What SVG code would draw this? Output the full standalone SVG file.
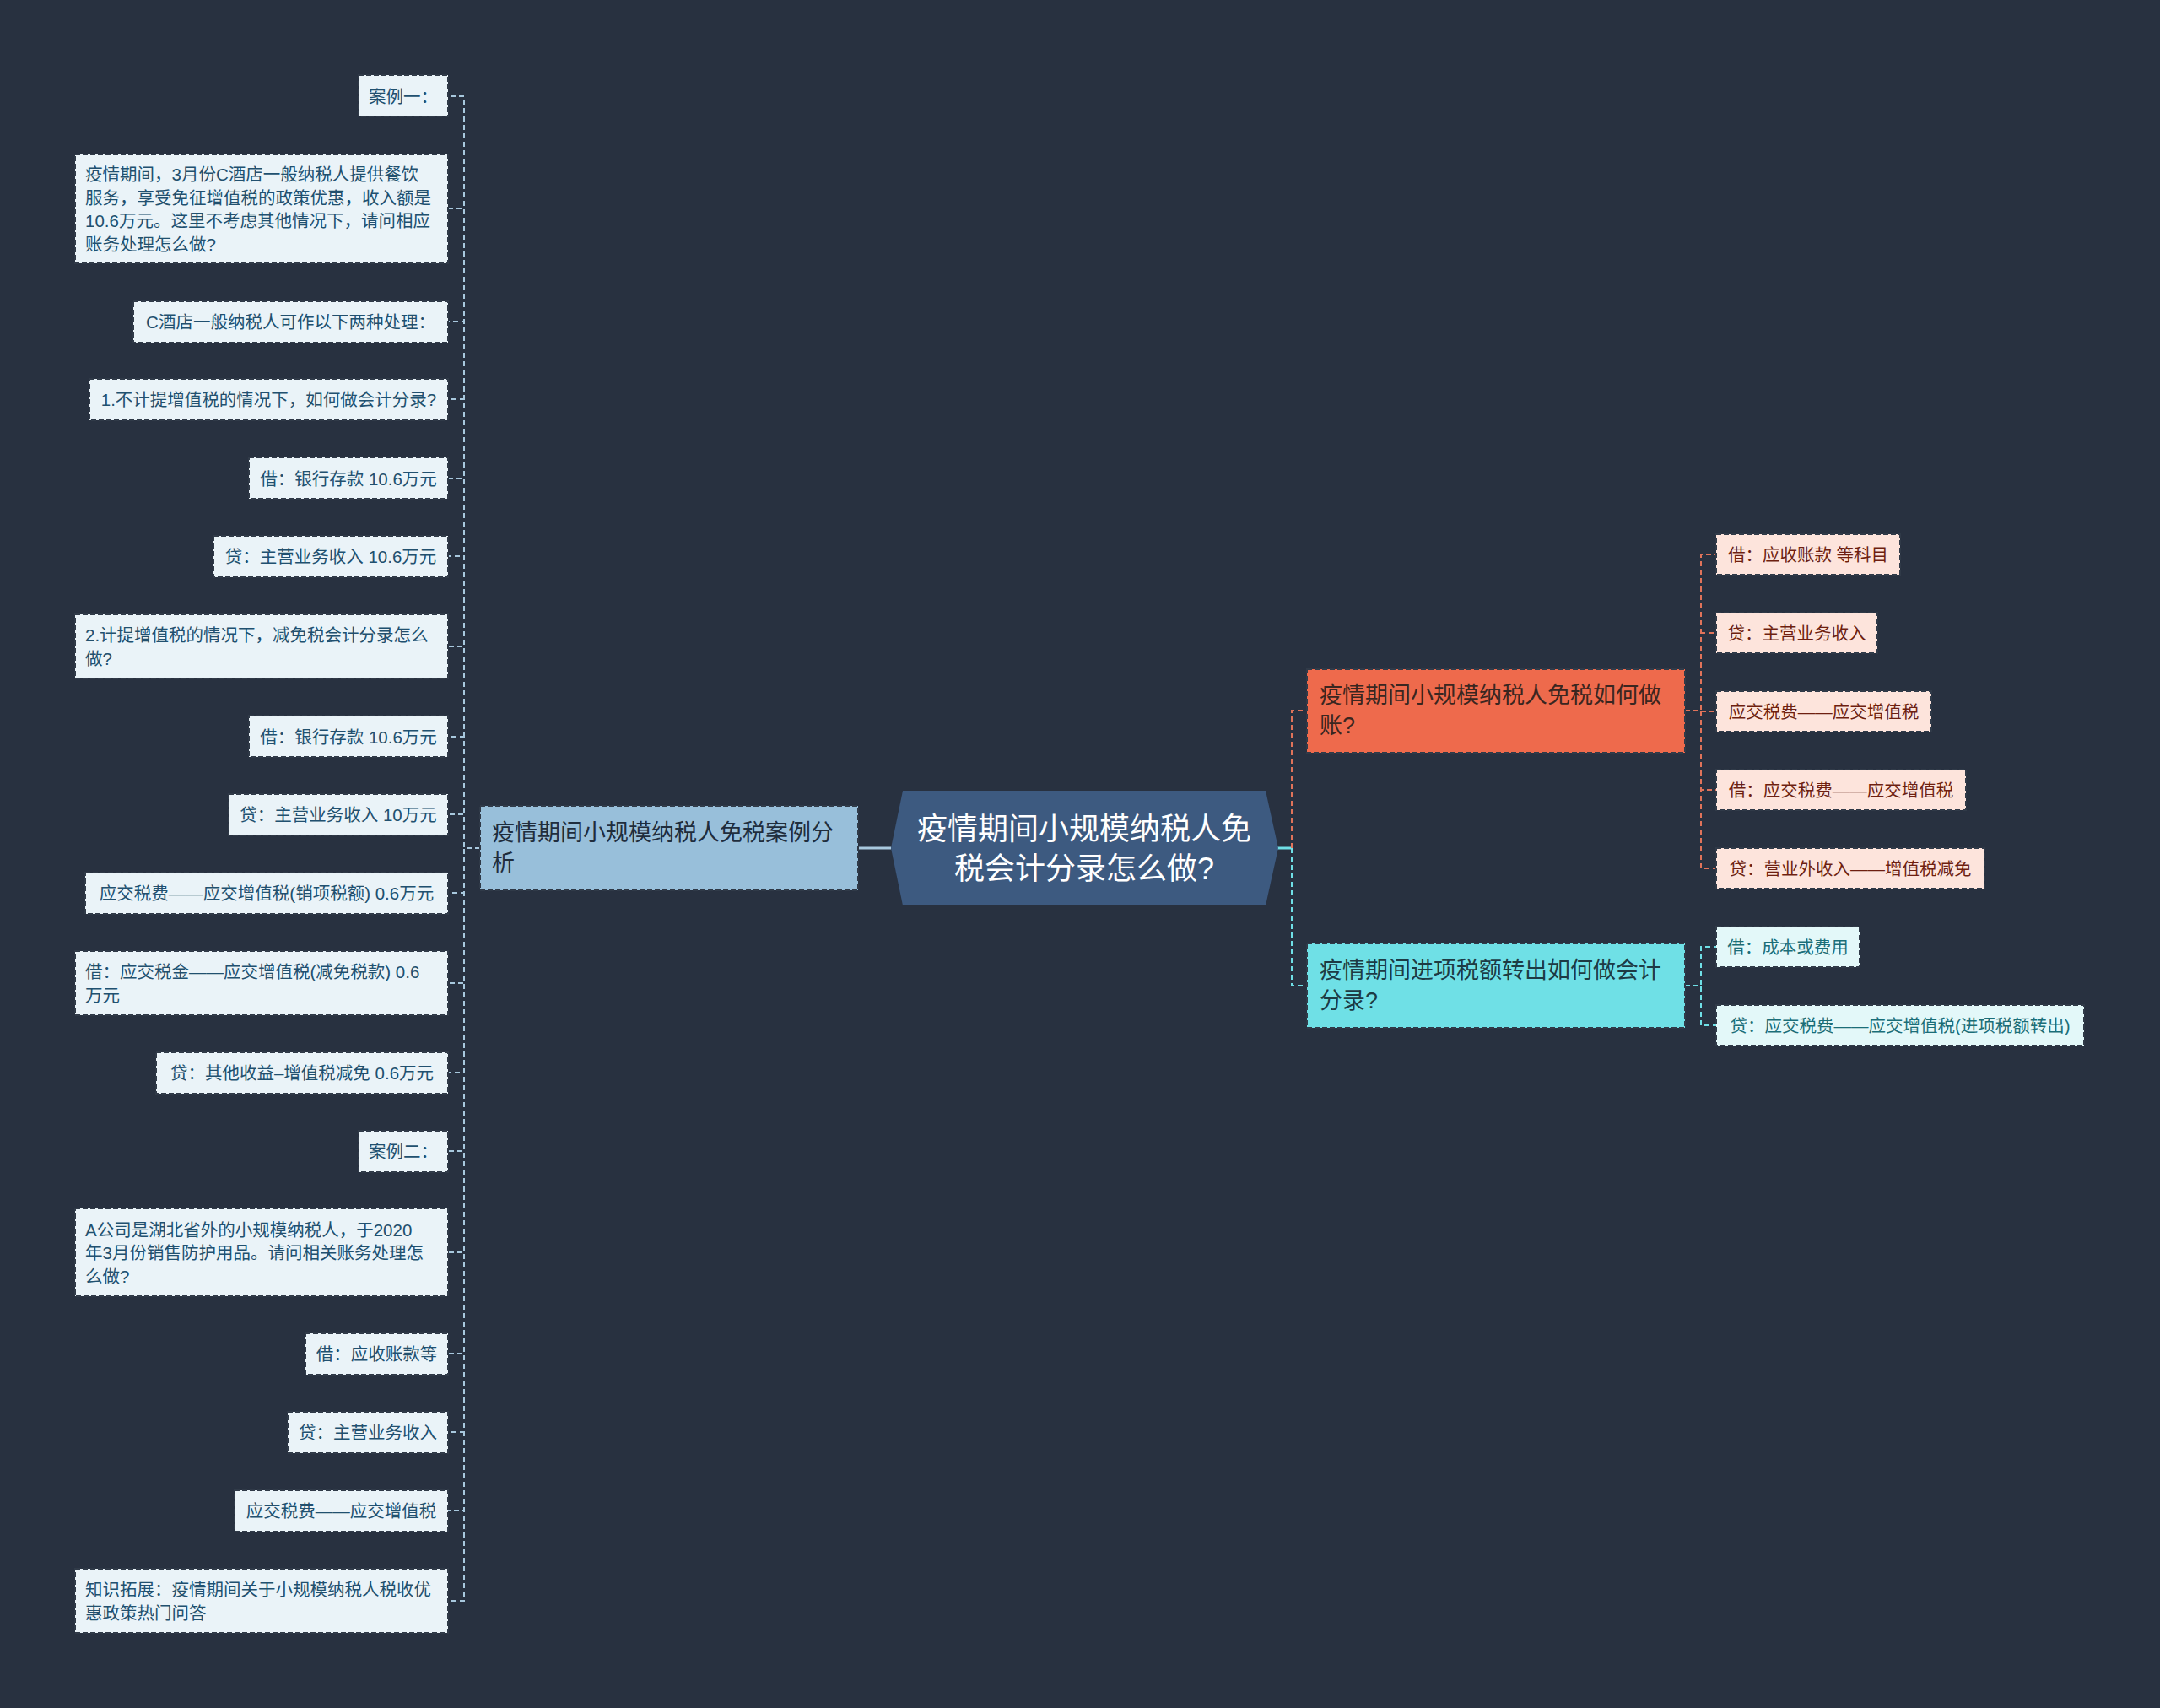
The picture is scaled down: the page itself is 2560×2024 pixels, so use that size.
<svg xmlns="http://www.w3.org/2000/svg" width="2560" height="2024" viewBox="0 0 2560 2024">
<style>
text{font-family:"Liberation Sans","Noto Sans CJK SC",sans-serif;dominant-baseline:central}
.ll rect{fill:#eaf3f8;stroke:#303a48;stroke-width:2;stroke-dasharray:6 3}
.ll text{font-size:20.5px;fill:#21506f}
.ol rect{fill:#fde4dc;stroke:#303a48;stroke-width:2;stroke-dasharray:6 3}
.ol text{font-size:20.5px;fill:#6e1f10}
.cl rect{fill:#e3f8f9;stroke:#303a48;stroke-width:2;stroke-dasharray:6 3}
.cl text{font-size:20.5px;fill:#1b6e78}
.br text{font-size:27px}
.c{text-anchor:middle}
.cb{fill:none;stroke:#a8c8de;stroke-width:2;stroke-dasharray:6 4}
.co{fill:none;stroke:#e0735a;stroke-width:2;stroke-dasharray:6 4}
.cc{fill:none;stroke:#6fdfe6;stroke-width:2;stroke-dasharray:6 4}
</style>
<rect x="0" y="0" width="2560" height="2024" fill="#283140"/>

<g id="connectors">
  <line x1="1017" y1="1005" x2="1056" y2="1005" stroke="#a8c8de" stroke-width="3"/>
  <line x1="1514" y1="1005" x2="1531" y2="1005" stroke="#6fdfe6" stroke-width="3"/>
  <path class="co" d="M1531 1005 V842 H1549"/>
  <path class="cc" d="M1531 1005 V1168 H1549"/>
  <path class="cb" d="M569 1005 H550 V114 H531"/>
  <path class="cb" d="M569 1005 H550 V247 H531"/>
  <path class="cb" d="M569 1005 H550 V381 H531"/>
  <path class="cb" d="M569 1005 H550 V473 H531"/>
  <path class="cb" d="M569 1005 H550 V567 H531"/>
  <path class="cb" d="M569 1005 H550 V659 H531"/>
  <path class="cb" d="M569 1005 H550 V766 H531"/>
  <path class="cb" d="M569 1005 H550 V873 H531"/>
  <path class="cb" d="M569 1005 H550 V965 H531"/>
  <path class="cb" d="M569 1005 H550 V1058 H531"/>
  <path class="cb" d="M569 1005 H550 V1165 H531"/>
  <path class="cb" d="M569 1005 H550 V1271 H531"/>
  <path class="cb" d="M569 1005 H550 V1364 H531"/>
  <path class="cb" d="M569 1005 H550 V1484 H531"/>
  <path class="cb" d="M569 1005 H550 V1604 H531"/>
  <path class="cb" d="M569 1005 H550 V1697 H531"/>
  <path class="cb" d="M569 1005 H550 V1790 H531"/>
  <path class="cb" d="M569 1005 H550 V1897 H531"/>
  <path class="co" d="M1997 842 H2016 V657 H2034"/>
  <path class="co" d="M1997 842 H2016 V750 H2034"/>
  <path class="co" d="M1997 842 H2016 V843 H2034"/>
  <path class="co" d="M1997 842 H2016 V936 H2034"/>
  <path class="co" d="M1997 842 H2016 V1029 H2034"/>
  <path class="cc" d="M1997 1168 H2016 V1122 H2034"/>
  <path class="cc" d="M1997 1168 H2016 V1215 H2034"/>
</g>

<g id="root">
  <polygon points="1070,937 1500,937 1515,1005 1500,1073 1070,1073 1056,1005" fill="#3d5a80"/>
  <text x="1285" y="982" class="c" font-size="36" fill="#ffffff">疫情期间小规模纳税人免</text>
  <text x="1285" y="1029" class="c" font-size="36" fill="#ffffff">税会计分录怎么做?</text>
</g>

<g id="branch-left" class="br">
  <rect x="569" y="955" width="448" height="100" fill="#98bfda" stroke="#303a48" stroke-width="2" stroke-dasharray="6 3"/>
  <text x="583" y="987" fill="#1f2d3d">疫情期间小规模纳税人免税案例分</text>
  <text x="583" y="1023" fill="#1f2d3d">析</text>
</g>

<g id="branch-right1" class="br">
  <rect x="1549" y="793" width="448" height="99" fill="#ee6a4c" stroke="#303a48" stroke-width="2" stroke-dasharray="6 3"/>
  <text x="1564" y="824" fill="#3a2620">疫情期间小规模纳税人免税如何做</text>
  <text x="1564" y="860" fill="#3a2620">账?</text>
</g>

<g id="branch-right2" class="br">
  <rect x="1549" y="1118" width="448" height="100" fill="#6fe0e6" stroke="#303a48" stroke-width="2" stroke-dasharray="6 3"/>
  <text x="1564" y="1150" fill="#1d3b44">疫情期间进项税额转出如何做会计</text>
  <text x="1564" y="1186" fill="#1d3b44">分录?</text>
</g>

<g id="n1" class="ll"><rect x="425" y="89" width="106" height="49"/><text x="478" y="114" class="c">案例一：</text></g>
<g id="n2" class="ll"><rect x="89" y="183" width="442" height="129"/>
  <text x="101" y="206">疫情期间，3月份C酒店一般纳税人提供餐饮</text>
  <text x="101" y="234">服务，享受免征增值税的政策优惠，收入额是</text>
  <text x="101" y="261">10.6万元。这里不考虑其他情况下，请问相应</text>
  <text x="101" y="289">账务处理怎么做?</text></g>
<g id="n3" class="ll"><rect x="158" y="357" width="373" height="49"/><text x="344.5" y="381" class="c">C酒店一般纳税人可作以下两种处理：</text></g>
<g id="n4" class="ll"><rect x="106" y="449" width="425" height="49"/><text x="318.5" y="473" class="c">1.不计提增值税的情况下，如何做会计分录?</text></g>
<g id="n5" class="ll"><rect x="295" y="542" width="236" height="49"/><text x="413" y="567" class="c">借：银行存款 10.6万元</text></g>
<g id="n6" class="ll"><rect x="253" y="635" width="278" height="49"/><text x="392" y="659" class="c">贷：主营业务收入 10.6万元</text></g>
<g id="n7" class="ll"><rect x="89" y="728" width="442" height="76"/>
  <text x="101" y="752">2.计提增值税的情况下，减免税会计分录怎么</text>
  <text x="101" y="780">做?</text></g>
<g id="n8" class="ll"><rect x="295" y="848" width="236" height="49"/><text x="413" y="873" class="c">借：银行存款 10.6万元</text></g>
<g id="n9" class="ll"><rect x="271" y="941" width="260" height="49"/><text x="401" y="965" class="c">贷：主营业务收入 10万元</text></g>
<g id="n10" class="ll"><rect x="101" y="1034" width="430" height="49"/><text x="316" y="1058" class="c">应交税费——应交增值税(销项税额) 0.6万元</text></g>
<g id="n11" class="ll"><rect x="89" y="1127" width="442" height="76"/>
  <text x="101" y="1151">借：应交税金——应交增值税(减免税款) 0.6</text>
  <text x="101" y="1179">万元</text></g>
<g id="n12" class="ll"><rect x="185" y="1247" width="346" height="49"/><text x="358" y="1271" class="c">贷：其他收益–增值税减免 0.6万元</text></g>
<g id="n13" class="ll"><rect x="425" y="1340" width="106" height="49"/><text x="478" y="1364" class="c">案例二：</text></g>
<g id="n14" class="ll"><rect x="89" y="1432" width="442" height="104"/>
  <text x="101" y="1457">A公司是湖北省外的小规模纳税人，于2020</text>
  <text x="101" y="1484">年3月份销售防护用品。请问相关账务处理怎</text>
  <text x="101" y="1512">么做?</text></g>
<g id="n15" class="ll"><rect x="362" y="1580" width="169" height="49"/><text x="446.5" y="1604" class="c">借：应收账款等</text></g>
<g id="n16" class="ll"><rect x="341" y="1673" width="190" height="49"/><text x="436" y="1697" class="c">贷：主营业务收入</text></g>
<g id="n17" class="ll"><rect x="278" y="1766" width="253" height="49"/><text x="404.5" y="1790" class="c">应交税费——应交增值税</text></g>
<g id="n18" class="ll"><rect x="89" y="1859" width="442" height="76"/>
  <text x="101" y="1883">知识拓展：疫情期间关于小规模纳税人税收优</text>
  <text x="101" y="1911">惠政策热门问答</text></g>

<g id="r1" class="ol"><rect x="2034" y="633" width="218" height="48"/><text x="2143" y="657" class="c">借：应收账款 等科目</text></g>
<g id="r2" class="ol"><rect x="2034" y="726" width="191" height="48"/><text x="2129.5" y="750" class="c">贷：主营业务收入</text></g>
<g id="r3" class="ol"><rect x="2034" y="819" width="255" height="48"/><text x="2161.5" y="843" class="c">应交税费——应交增值税</text></g>
<g id="r4" class="ol"><rect x="2034" y="912" width="296" height="48"/><text x="2182" y="936" class="c">借：应交税费——应交增值税</text></g>
<g id="r5" class="ol"><rect x="2034" y="1005" width="318" height="48"/><text x="2193" y="1029" class="c">贷：营业外收入——增值税减免</text></g>
<g id="r6" class="cl"><rect x="2034" y="1098" width="170" height="48"/><text x="2119" y="1122" class="c">借：成本或费用</text></g>
<g id="r7" class="cl"><rect x="2034" y="1191" width="436" height="48"/><text x="2252" y="1215" class="c">贷：应交税费——应交增值税(进项税额转出)</text></g>
</svg>
